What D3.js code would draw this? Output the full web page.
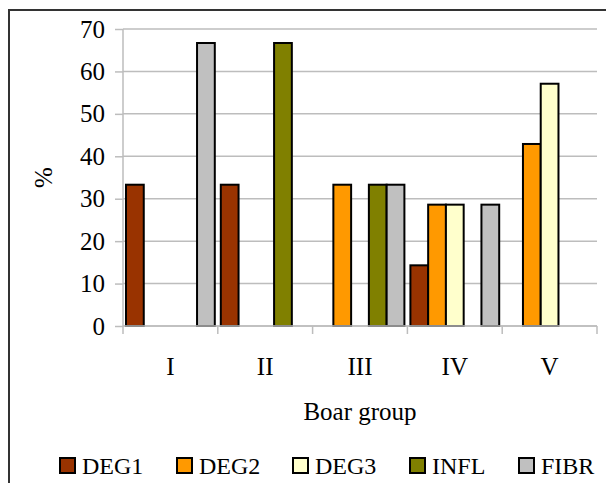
<!DOCTYPE html>
<html>
<head>
<meta charset="utf-8">
<script src="https://cdn.jsdelivr.net/npm/d3@7"></script>
<style>
  html, body { margin: 0; padding: 0; background: #fff; }
</style>
</head>
<body>
<svg id="chart" width="606" height="483" viewBox="0 0 606 483"></svg>
<script>
const groups = ["I", "II", "III", "IV", "V"];
const series = ["DEG1", "DEG2", "DEG3", "INFL", "FIBR"];
const deg1 = [33.3, 33.3, 0, 14.3, 0];
const deg2 = [0, 0, 33.3, 28.6, 42.9];
const deg3 = [0, 0, 0, 28.6, 57.1];
const infl = [0, 66.7, 33.3, 0, 0];
const fibr = [66.7, 0, 33.3, 28.6, 0];
const yTicks = [0, 10, 20, 30, 40, 50, 60, 70];
const colors = ["#993300", "#FF9900", "#FFFFCC", "#808000", "#C0C0C0"];

const values = [deg1, deg2, deg3, infl, fibr];
const rows = groups.map((g, i) => ({
  group: g,
  bars: series.map((s, j) => ({ series: s, value: values[j][i] }))
}));

const svg = d3.select("#chart");
const font = '"Liberation Serif"';
const margin = { top: 29, right: 9, bottom: 157, left: 123 };
const width = 606, height = 483;
const plotW = width - margin.left - margin.right;
const plotH = height - margin.top - margin.bottom;

svg.append("rect")
  .attr("x", 9).attr("y", 10)
  .attr("width", 610).attr("height", 490)
  .attr("fill", "#fff")
  .attr("stroke", "#333")
  .attr("stroke-width", 2);

const chart = svg.append("g").attr("transform", `translate(${margin.left}, ${margin.top})`);

const x0 = d3.scaleBand().domain(groups).range([0, plotW]).padding(0);
const x1 = d3.scaleBand().domain(series).range([3, x0.bandwidth() - 3]).padding(0);
const y = d3.scaleLinear().domain([0, 70]).range([plotH, 0]);
const color = d3.scaleOrdinal().domain(series).range(colors);

// gridlines
chart.append("g")
  .selectAll("line")
  .data(yTicks)
  .join("line")
  .attr("x1", 0).attr("x2", plotW)
  .attr("y1", d => y(d)).attr("y2", d => y(d))
  .attr("stroke", "#bdbdbd")
  .attr("stroke-width", 1.5);

// y axis
chart.append("g")
  .call(d3.axisLeft(y).tickValues(yTicks).tickSize(8).tickPadding(10))
  .call(g => g.select(".domain").attr("stroke", "#bdbdbd").attr("stroke-width", 1.5).attr("d", `M0,${plotH}V0`))
  .call(g => g.selectAll(".tick line").attr("stroke", "#bdbdbd").attr("stroke-width", 1.5))
  .call(g => g.selectAll("text").style("font-family", font).attr("font-size", 25).attr("fill", "#000"));

// bars
const grp = chart.selectAll(".grp")
  .data(rows)
  .join("g")
  .attr("class", "grp")
  .attr("transform", d => `translate(${x0(d.group)}, 0)`);

grp.selectAll("rect")
  .data(d => d.bars.filter(b => b.value > 0))
  .join("rect")
  .attr("x", d => x1(d.series))
  .attr("width", x1.bandwidth())
  .attr("y", d => y(d.value))
  .attr("height", d => y(0) - y(d.value))
  .attr("fill", d => color(d.series))
  .attr("stroke", "#000")
  .attr("stroke-width", 2);

// x axis
chart.append("g")
  .attr("transform", `translate(0, ${plotH})`)
  .call(d3.axisBottom(x0).tickSize(0).tickPadding(31))
  .call(g => g.select(".domain").attr("stroke", "#bdbdbd").attr("stroke-width", 1.5).attr("d", `M0,0H${plotW}`))
  .call(g => g.selectAll("text").style("font-family", font).attr("font-size", 25).attr("fill", "#000"));

chart.append("g")
  .attr("transform", `translate(0, ${plotH})`)
  .selectAll("line")
  .data(groups.concat(["end"]))
  .join("line")
  .attr("x1", (d, i) => i * x0.bandwidth())
  .attr("x2", (d, i) => i * x0.bandwidth())
  .attr("y1", 0).attr("y2", 8)
  .attr("stroke", "#bdbdbd")
  .attr("stroke-width", 1.5);

// axis titles
chart.append("text")
  .attr("x", plotW / 2)
  .attr("y", plotH + 94)
  .attr("text-anchor", "middle")
  .style("font-family", font)
  .attr("font-size", 25)
  .text("Boar group");

svg.append("text")
  .attr("transform", `translate(52, ${margin.top + plotH / 2}) rotate(-90)`)
  .attr("text-anchor", "middle")
  .style("font-family", font)
  .attr("font-size", 25)
  .text("%");

// legend
const legendX = [60, 177, 293, 410, 519];
const legend = svg.append("g")
  .selectAll("g")
  .data(series)
  .join("g")
  .attr("transform", (d, i) => `translate(${legendX[i]}, 458)`);

legend.append("rect")
  .attr("width", 15).attr("height", 15)
  .attr("fill", d => color(d))
  .attr("stroke", "#000")
  .attr("stroke-width", 2);

legend.append("text")
  .attr("x", 22)
  .attr("y", 16)
  .style("font-family", font)
  .attr("font-size", 24)
  .text(d => d);
</script>
</body>
</html>
